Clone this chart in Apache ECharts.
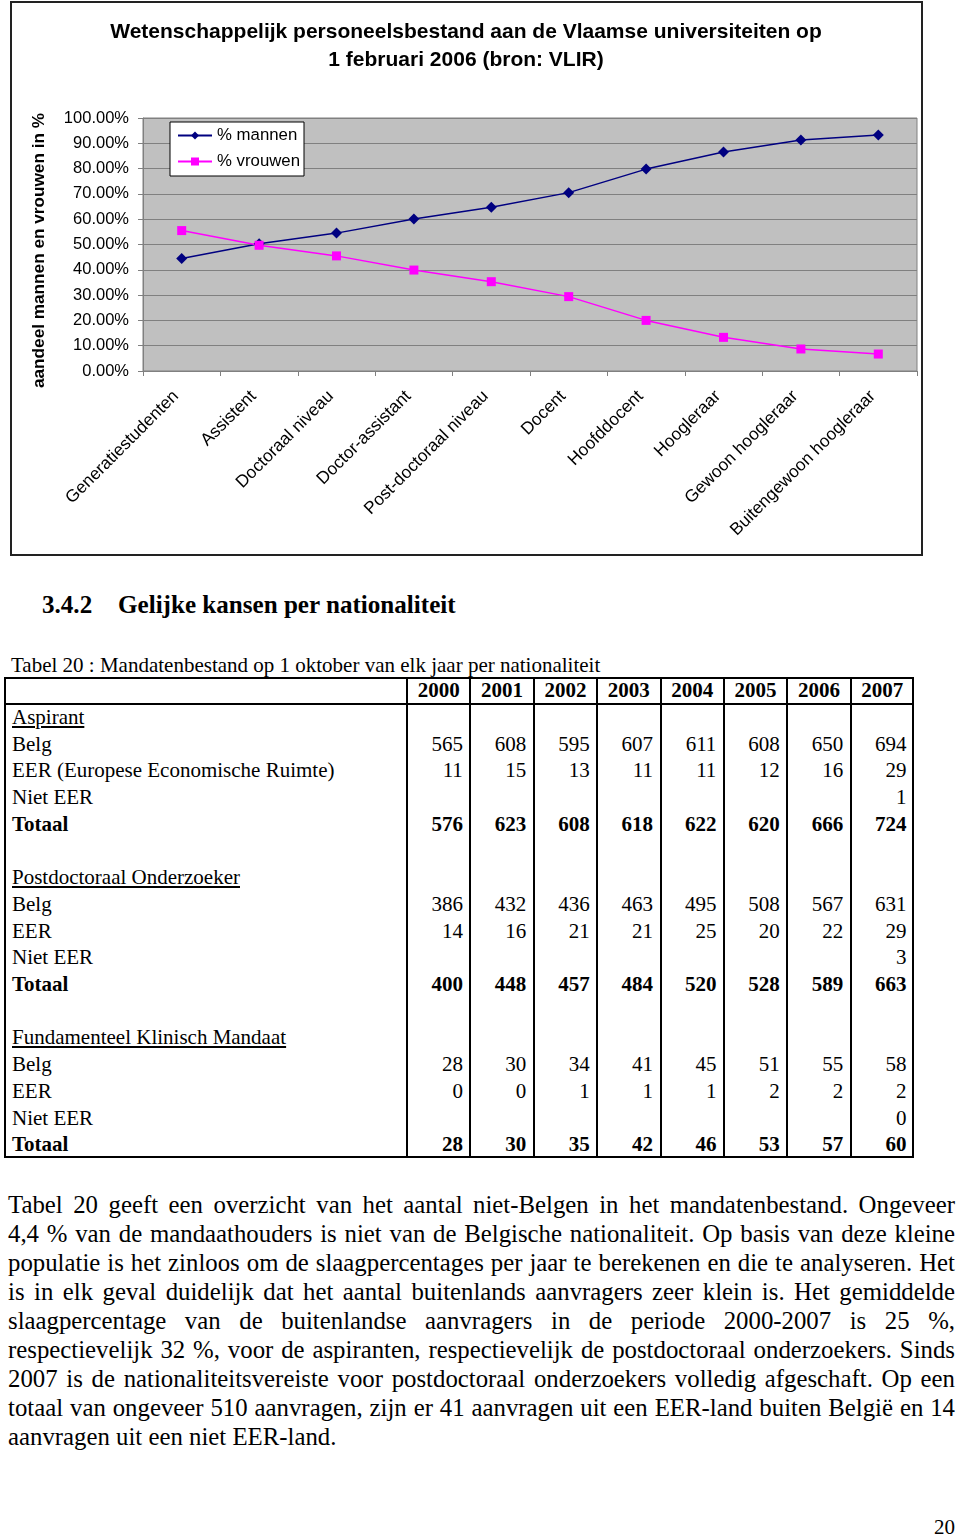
<!DOCTYPE html>
<html>
<head>
<meta charset="utf-8">
<script src="https://cdn.jsdelivr.net/npm/echarts@6/dist/echarts.min.js"></script>
<style>
html,body{margin:0;padding:0;background:#fff;}
body{width:960px;height:1537px;position:relative;overflow:hidden;font-family:"Liberation Serif","Times New Roman",serif;color:#000;}
#frame{position:absolute;left:10px;top:1px;width:913px;height:555px;border:2px solid #222;box-sizing:border-box;}
#chart{position:absolute;left:0;top:0;width:932px;height:560px;}
.h{position:absolute;font-weight:bold;font-size:25.1px;line-height:30px;white-space:nowrap;}
.cap{position:absolute;left:11px;top:651.6px;font-size:21px;line-height:26px;white-space:nowrap;}
#tbl{position:absolute;left:4px;top:677px;width:910px;height:481px;border:2px solid #000;box-sizing:border-box;}
.vl{position:absolute;top:0;bottom:0;width:2px;background:#000;}
.hl{position:absolute;left:0;right:0;height:2px;background:#000;}
.c{position:absolute;font-size:21px;line-height:26.7px;white-space:nowrap;}
.pl{position:absolute;left:8px;width:947px;font-size:24.8px;line-height:29px;text-align:justify;text-align-last:justify;}
.pl.last{text-align-last:left;}
</style>
</head>
<body>
<div id="frame"></div>
<div id="chart"></div>

<div class="h" style="left:42px;top:590.4px;">3.4.2</div>
<div class="h" style="left:118px;top:590.4px;">Gelijke kansen per nationaliteit</div>
<div class="cap">Tabel 20 : Mandatenbestand op 1 oktober van elk jaar per nationaliteit</div>
<div id="tbl"></div>

<div class="pl" style="top:1190px;">Tabel 20 geeft een overzicht van het aantal niet-Belgen in het mandatenbestand. Ongeveer</div>
<div class="pl" style="top:1219px;">4,4 % van de mandaathouders is niet van de Belgische nationaliteit. Op basis van deze kleine</div>
<div class="pl" style="top:1248px;">populatie is het zinloos om de slaagpercentages per jaar te berekenen en die te analyseren. Het</div>
<div class="pl" style="top:1277px;">is in elk geval duidelijk dat het aantal buitenlands aanvragers zeer klein is. Het gemiddelde</div>
<div class="pl" style="top:1306px;">slaagpercentage van de buitenlandse aanvragers in de periode 2000-2007 is 25 %,</div>
<div class="pl" style="top:1335px;">respectievelijk 32 %, voor de aspiranten, respectievelijk de postdoctoraal onderzoekers. Sinds</div>
<div class="pl" style="top:1364px;">2007 is de nationaliteitsvereiste voor postdoctoraal onderzoekers volledig afgeschaft. Op een</div>
<div class="pl" style="top:1393px;">totaal van ongeveer 510 aanvragen, zijn er 41 aanvragen uit een EER-land buiten België en 14</div>
<div class="pl last" style="top:1422px;">aanvragen uit een niet EER-land.</div>
<div class="c" style="right:5px;top:1514px;">20</div>

<script>
// ---- chart data ----
const categories = ['Generatiestudenten','Assistent','Doctoraal niveau','Doctor-assistant','Post-doctoraal niveau','Docent','Hoofddocent','Hoogleraar','Gewoon hoogleraar','Buitengewoon hoogleraar'];
const mannen  = [0.445, 0.503, 0.545, 0.601, 0.647, 0.705, 0.798, 0.866, 0.913, 0.933];
const vrouwen = [0.555, 0.497, 0.455, 0.399, 0.353, 0.294, 0.200, 0.133, 0.087, 0.067];

// ---- table data ----
const years = ['2000','2001','2002','2003','2004','2005','2006','2007'];
const aspirantBelg    = [565, 608, 595, 607, 611, 608, 650, 694];
const aspirantEER     = [11, 15, 13, 11, 11, 12, 16, 29];
const aspirantNietEER = [null, null, null, null, null, null, null, 1];
const aspirantTotaal  = [576, 623, 608, 618, 622, 620, 666, 724];
const postdocBelg     = [386, 432, 436, 463, 495, 508, 567, 631];
const postdocEER      = [14, 16, 21, 21, 25, 20, 22, 29];
const postdocNietEER  = [null, null, null, null, null, null, null, 3];
const postdocTotaal   = [400, 448, 457, 484, 520, 528, 589, 663];
const fkmBelg         = [28, 30, 34, 41, 45, 51, 55, 58];
const fkmEER          = [0, 0, 1, 1, 1, 2, 2, 2];
const fkmNietEER      = [null, null, null, null, null, null, null, 0];
const fkmTotaal       = [28, 30, 35, 42, 46, 53, 57, 60];

const FONT = '"Liberation Sans", Arial, sans-serif';
const chart = echarts.init(document.getElementById('chart'));
chart.setOption({
  animation: false,
  title: {
    text: 'Wetenschappelijk personeelsbestand aan de Vlaamse universiteiten op\n1 februari 2006 (bron: VLIR)',
    left: 'center', top: 13,
    textStyle: {fontFamily: FONT, fontWeight: 'bold', fontSize: 21, lineHeight: 28, color: '#000'}
  },
  legend: {
    orient: 'vertical', left: 170, top: 122,
    itemWidth: 34, itemHeight: 10, itemGap: 9,
    padding: [5, 4, 6, 7],
    backgroundColor: '#fff', borderColor: '#000', borderWidth: 1, borderRadius: 0,
    textStyle: {fontFamily: FONT, fontSize: 16.8, color: '#000'},
    data: ['% mannen', '% vrouwen']
  },
  grid: {
    left: 143, top: 118, width: 774, height: 253,
    show: true, backgroundColor: '#C0C0C0', borderColor: '#808080', borderWidth: 1,
    containLabel: false, outerBoundsMode: 'none'
  },
  xAxis: {
    type: 'category', data: categories, boundaryGap: true,
    axisLine: {show: true, lineStyle: {color: '#808080', width: 1}},
    axisTick: {show: true, length: 5, lineStyle: {color: '#808080'}},
    splitLine: {show: false},
    axisLabel: {rotate: 45, interval: 0, margin: 17, padding: [0, 8, 0, 0], fontFamily: FONT, fontSize: 17.3, color: '#000'}
  },
  yAxis: {
    type: 'value', min: 0, max: 1, interval: 0.1,
    name: 'aandeel mannen en vrouwen in %', nameLocation: 'middle', nameRotate: 90, nameGap: 95,
    nameTextStyle: {fontFamily: FONT, fontWeight: 'bold', fontSize: 17.2, color: '#000', padding: [0, 12, 0, 0]},
    axisLine: {show: true, lineStyle: {color: '#808080', width: 1}},
    axisTick: {show: true, length: 5, lineStyle: {color: '#808080'}},
    splitLine: {show: true, lineStyle: {color: '#808080', width: 1}},
    axisLabel: {formatter: v => (v * 100).toFixed(2) + '%', fontFamily: FONT, fontSize: 16.5, margin: 14, color: '#000'}
  },
  series: [
    {name: '% mannen', type: 'line', data: mannen, symbol: 'diamond', symbolSize: 11,
     lineStyle: {color: '#000080', width: 1.5}, itemStyle: {color: '#000080'}},
    {name: '% vrouwen', type: 'line', data: vrouwen, symbol: 'rect', symbolSize: 9,
     lineStyle: {color: '#FF00FF', width: 1.5}, itemStyle: {color: '#FF00FF'}}
  ]
});

// ---- table build ----
const sections = [
  {title: 'Aspirant', rows: [['Belg', aspirantBelg], ['EER (Europese Economische Ruimte)', aspirantEER], ['Niet EER', aspirantNietEER], ['Totaal', aspirantTotaal, true]]},
  {title: 'Postdoctoraal Onderzoeker', rows: [['Belg', postdocBelg], ['EER', postdocEER], ['Niet EER', postdocNietEER], ['Totaal', postdocTotaal, true]]},
  {title: 'Fundamenteel Klinisch Mandaat', rows: [['Belg', fkmBelg], ['EER', fkmEER], ['Niet EER', fkmNietEER], ['Totaal', fkmTotaal, true]]}
];
const tbl = document.getElementById('tbl');
const OX = 4, OY = 677;
const firstColRight = 407;
const colW = (914 - 407) / 8;
const headerH = 27, rowH = 26.7;
function add(cls, style, text) {
  const d = document.createElement('div');
  d.className = cls; Object.assign(d.style, style);
  if (text !== undefined) d.textContent = text;
  tbl.appendChild(d); return d;
}
for (let i = 0; i < 8; i++) {
  add('vl', {left: (firstColRight + i * colW - OX - 2 - 1) + 'px'});
}
add('hl', {top: (704 - OY - 2 - 1) + 'px'});
years.forEach((y, i) => {
  const l = firstColRight + i * colW - OX - 2;
  add('c', {left: l + 'px', width: colW + 'px', textAlign: 'center', top: (-2) + 'px', lineHeight: headerH + 'px', fontWeight: 'bold'}, y);
});
let r = 0;
const bodyTop = 704 - OY - 2;
sections.forEach((s, si) => {
  if (si > 0) r++;
  add('c', {left: '6px', top: (bodyTop + r * rowH) + 'px', textDecoration: 'underline'}, s.title);
  r++;
  s.rows.forEach(row => {
    const top = bodyTop + r * rowH;
    add('c', {left: '6px', top: top + 'px', fontWeight: row[2] ? 'bold' : 'normal'}, row[0]);
    row[1].forEach((v, i) => {
      if (v === null) return;
      const rightEdge = firstColRight + (i + 1) * colW - OX - 2;
      add('c', {left: (rightEdge - 7.5 - 60) + 'px', width: '60px', textAlign: 'right', top: top + 'px', fontWeight: row[2] ? 'bold' : 'normal'}, String(v));
    });
    r++;
  });
});
</script>
</body>
</html>
